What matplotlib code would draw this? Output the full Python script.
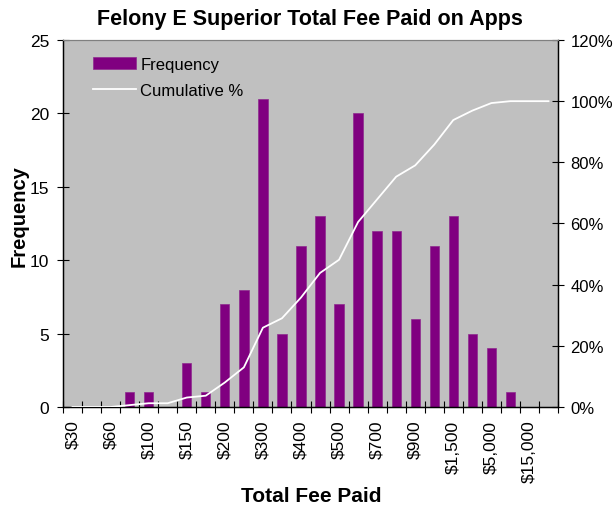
import numpy as np
import matplotlib
matplotlib.use('Agg')
import matplotlib.pyplot as plt
from matplotlib.ticker import FuncFormatter, FixedLocator

plt.rcParams['font.family'] = ['Liberation Sans', 'DejaVu Sans']

# bins (only every other label is shown on the chart)
bin_labels = ['$30', '$60', '$100', '$150', '$200', '$300', '$400',
              '$500', '$700', '$900', '$1,500', '$5,000', '$15,000']
frequency = [0, 0, 0, 1, 1, 0, 3, 1, 7, 8, 21, 5, 11, 13, 7, 20,
             12, 12, 6, 11, 13, 5, 4, 1, 0, 0]
cumulative_pct = [0.0, 0.0, 0.0, 0.62, 1.23, 1.23, 3.09, 3.70, 8.02, 12.96,
                  25.93, 29.01, 35.80, 43.83, 48.15, 60.49, 67.90, 75.31,
                  79.01, 85.80, 93.83, 96.91, 99.38, 100.0, 100.0, 100.0]

n = len(frequency)
x = np.arange(n) + 0.5

fig = plt.figure(figsize=(6.16, 5.10), dpi=100)
ax = fig.add_axes([63/616, 1-408/510, 495/616, 367/510])
ax.set_facecolor('#C0C0C0')

ax.bar(x, frequency, width=0.49, color='#800080', edgecolor='#8F2A8F',
       linewidth=0.5, label='Frequency', zorder=2)
ax.set_xlim(0, n)
ax.set_ylim(0, 25)
ax.set_yticks(range(0, 26, 5))

ax2 = ax.twinx()
ax2.plot(x, np.array(cumulative_pct) / 100, color='white', lw=1.3,
         label='Cumulative %', zorder=3)
ax2.set_ylim(0, 1.2)
ax2.set_yticks(np.arange(0, 1.21, 0.2))
ax2.yaxis.set_major_formatter(FuncFormatter(lambda v, p: '%d%%' % round(v*100)))

# x ticks: marks at category edges, labels on every other category
ax.xaxis.set_major_locator(FixedLocator(np.arange(0, n + 1)))
ax.xaxis.set_major_formatter(FuncFormatter(lambda v, p: ''))
ax.xaxis.set_minor_locator(FixedLocator(x[::2]))
ax.set_xticklabels(bin_labels, minor=True, rotation=90, fontsize=12.5)
ax.tick_params(axis='x', which='minor', length=0, pad=9)
ax.tick_params(axis='x', which='major', direction='inout', length=8, width=0.8)
ax.tick_params(axis='y', direction='inout', length=8, width=0.8, labelsize=12.5, pad=6)
ax2.tick_params(axis='y', direction='inout', length=8, width=0.8, labelsize=12, pad=5)

for a in (ax, ax2):
    a.spines['top'].set_color('#808080')
    a.spines['top'].set_linewidth(0.8)
    for s in ('left', 'right', 'bottom'):
        a.spines[s].set_linewidth(0.9)

h1, l1 = ax.get_legend_handles_labels()
h2, l2 = ax2.get_legend_handles_labels()
ax2.legend(h1 + h2, l1 + l2, loc='upper left', bbox_to_anchor=(0.03, 0.995),
           frameon=False, fontsize=12, handlelength=2.6, handleheight=0.66,
           labelspacing=0.68, handletextpad=0.25)

fig.text(0.5035, 0.962, 'Felony E Superior Total Fee Paid on Apps', ha='center',
         va='center', fontsize=15.5, fontweight='bold')
fig.text(19/616, 1-216/510, 'Frequency', rotation=90, ha='center', va='center',
         fontsize=14.5, fontweight='bold')
fig.text(311/616, 1-497/510, 'Total Fee Paid', ha='center', va='center',
         fontsize=15, fontweight='bold')

fig.savefig('out.png', dpi=100)
